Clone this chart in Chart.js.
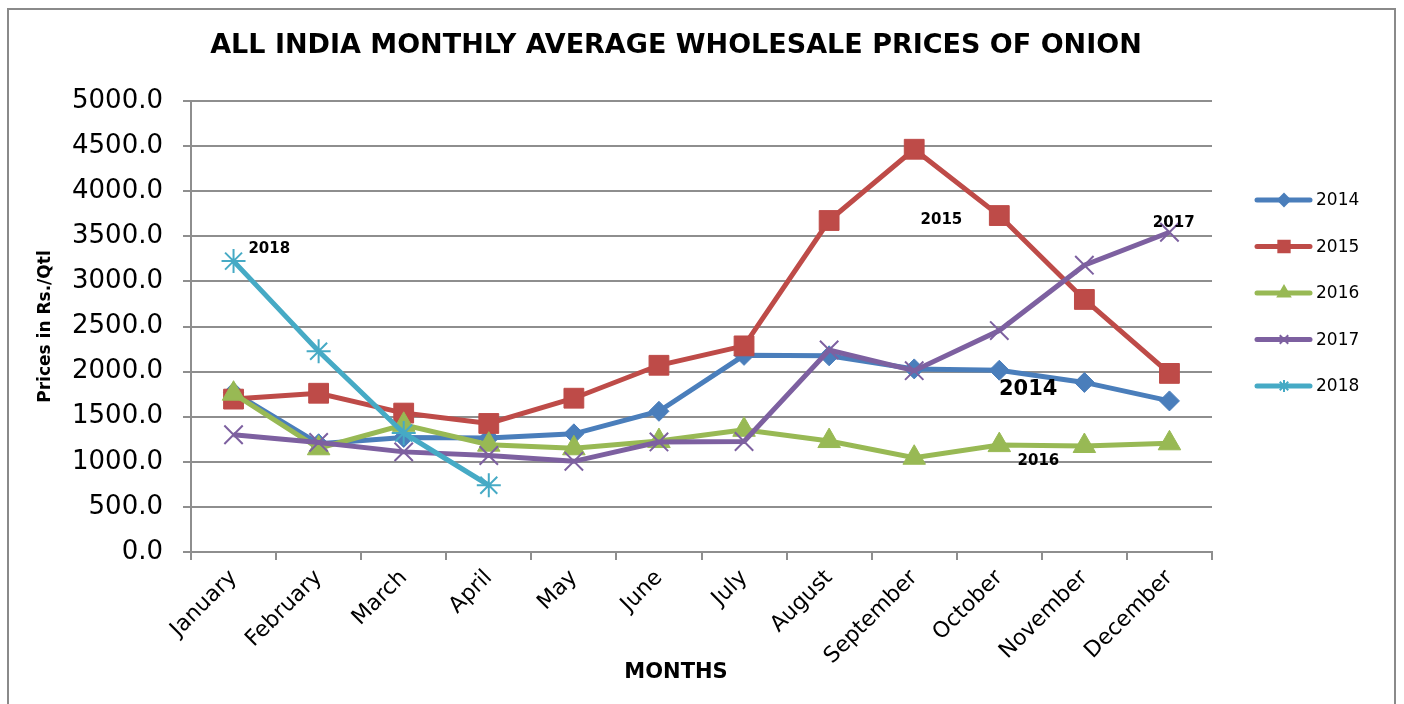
<!DOCTYPE html>
<html>
<head>
<meta charset="utf-8">
<script src="https://cdn.jsdelivr.net/npm/chart.js@4.4.1/dist/chart.umd.min.js"></script>
<style>
  html, body { margin: 0; padding: 0; background: #fff; }
  #wrap { position: relative; width: 1404px; height: 704px; overflow: hidden; }
  #frame { position: absolute; left: 7px; top: 8px; width: 1389px; height: 720px; border: 2px solid #8a8a8a; box-sizing: border-box; }
  #onionChart { position: absolute; left: 0; top: 0; }
</style>
</head>
<body>
<div id="wrap">
  <div id="frame"></div>
  <canvas id="onionChart" width="1404" height="704"></canvas>
</div>
<script>
const months = ['January', 'February', 'March', 'April', 'May', 'June', 'July',
                'August', 'September', 'October', 'November', 'December'];
const years = ['2014', '2015', '2016', '2017', '2018'];

// Rs./Qtl
const prices2014 = [1770, 1200, 1270, 1265, 1310, 1560, 2180, 2175, 2030, 2015, 1880, 1675];
const prices2015 = [1695, 1760, 1540, 1425, 1705, 2070, 2285, 3675, 4465, 3730, 2800, 1980];
const prices2016 = [1755, 1150, 1410, 1190, 1150, 1230, 1355, 1230, 1045, 1185, 1175, 1205];
const prices2017 = [1300, 1215, 1110, 1070, 1005, 1220, 1225, 2240, 2010, 2455, 3180, 3545];
const prices2018 = [3225, 2225, 1320, 740];

const yTicks = [0, 500, 1000, 1500, 2000, 2500, 3000, 3500, 4000, 4500, 5000];

const colors = ['#4a7ebb', '#be4b48', '#98b954', '#7d60a0', '#46aac5'];
const markers = ['rectRot', 'rect', 'triangle', 'crossRot', 'star'];
const markerSize = [10, 14, 13, 13, 12];
const legendMarkerSize = [6, 8, 7, 6, 6];

// year labels written inside the plot (category index, value)
const yearNotes = [
    { text: '2018', at: 0.42, value: 3360, size: 15 },
    { text: '2015', at: 8.32, value: 3680, size: 15 },
    { text: '2017', at: 11.05, value: 3650, size: 15 },
    { text: '2014', at: 9.34, value: 1796, size: 21 },
    { text: '2016', at: 9.46, value: 1010, size: 15 }
];

const series = [prices2014, prices2015, prices2016, prices2017, prices2018];
const gridColor = '#8e8e8e';
const fontFamily = '"DejaVu Sans", Verdana, sans-serif';

const datasets = series.map((vals, i) => ({
    label: years[i],
    data: vals,
    borderColor: colors[i],
    backgroundColor: colors[i],
    borderWidth: 5,
    pointStyle: markers[i],
    pointRadius: markerSize[i],
    pointHoverRadius: markerSize[i],
    pointBorderWidth: (i >= 3) ? 2 : 1,
    pointBackgroundColor: colors[i],
    pointBorderColor: colors[i],
    tension: 0,
    order: 4 - i
}));

const yearNotesPlugin = {
    id: 'yearNotes',
    afterDatasetsDraw(chart) {
        const ctx = chart.ctx;
        const x = chart.scales.x, y = chart.scales.y;
        ctx.save();
        ctx.fillStyle = '#000';
        ctx.textAlign = 'center';
        ctx.textBaseline = 'middle';
        yearNotes.forEach(n => {
            ctx.font = 'bold ' + n.size + 'px ' + fontFamily;
            ctx.fillText(n.text, x.getPixelForValue(n.at), y.getPixelForValue(n.value));
        });
        ctx.restore();
    }
};

const sideLegendPlugin = {
    id: 'sideLegend',
    afterDraw(chart) {
        const ctx = chart.ctx;
        const area = chart.chartArea;
        const x0 = area.right + 45;
        ctx.save();
        chart.data.datasets.forEach((ds, i) => {
            const yy = area.top + 99 + i * 46.5;
            ctx.strokeStyle = ds.borderColor;
            ctx.fillStyle = ds.borderColor;
            ctx.lineWidth = 5;
            ctx.lineCap = 'round';
            ctx.beginPath();
            ctx.moveTo(x0, yy);
            ctx.lineTo(x0 + 53, yy);
            ctx.stroke();
            ctx.lineCap = 'butt';
            ctx.lineWidth = 2;
            if (Chart.helpers && Chart.helpers.drawPoint) {
                Chart.helpers.drawPoint(ctx, {
                    pointStyle: ds.pointStyle,
                    radius: legendMarkerSize[i],
                    borderWidth: 2,
                    rotation: 0
                }, x0 + 27, yy);
            }
            ctx.fillStyle = '#000';
            ctx.font = '17px ' + fontFamily;
            ctx.textAlign = 'left';
            ctx.textBaseline = 'middle';
            ctx.fillText(ds.label, x0 + 59, yy + 1);
        });
        ctx.restore();
    }
};

const ctx = document.getElementById('onionChart').getContext('2d');
const onionChart = new Chart(ctx, {
    type: 'line',
    data: { labels: months, datasets: datasets },
    plugins: [yearNotesPlugin, sideLegendPlugin],
    options: {
        responsive: false,
        animation: false,
        events: [],
        layout: { padding: { left: 0, right: 52, top: 0, bottom: 0 } },
        plugins: {
            legend: { display: false },
            tooltip: { enabled: false },
            title: {
                display: true,
                text: 'ALL INDIA MONTHLY AVERAGE WHOLESALE PRICES OF ONION',
                color: '#000',
                font: { family: fontFamily, size: 27, weight: 'bold', lineHeight: 1.2 },
                padding: { top: 30, bottom: 38.6 }
            },
            subtitle: {
                display: true,
                position: 'bottom',
                text: 'MONTHS',
                color: '#000',
                font: { family: fontFamily, size: 21, weight: 'bold', lineHeight: 0.8 },
                padding: { top: 0, bottom: 22.6 }
            }
        },
        scales: {
            x: {
                offset: true,
                grid: {
                    offset: true,
                    drawOnChartArea: false,
                    drawTicks: true,
                    tickLength: 8,
                    color: gridColor,
                    lineWidth: 2
                },
                border: { display: true, color: gridColor, width: 2 },
                ticks: {
                    autoSkip: false,
                    minRotation: 45,
                    maxRotation: 45,
                    padding: 5,
                    color: '#000',
                    font: { family: fontFamily, size: 22 }
                },
                afterFit(scale) { scale.height = 112.6; }
            },
            y: {
                min: 0,
                max: 5000,
                afterBuildTicks(scale) {
                    scale.ticks = yTicks.map(v => ({ value: v }));
                },
                grid: {
                    color: gridColor,
                    lineWidth: 2,
                    drawTicks: true,
                    tickLength: 8
                },
                border: { display: true, color: gridColor, width: 2 },
                ticks: {
                    padding: 20,
                    color: '#000',
                    font: { family: fontFamily, size: 26 },
                    callback: v => Number(v).toFixed(1)
                },
                title: {
                    display: true,
                    text: 'Prices in Rs./Qtl',
                    color: '#000',
                    font: { family: fontFamily, size: 17, weight: 'bold', lineHeight: 1.2 },
                    padding: { top: 35, bottom: 0 }
                },
                afterFit(scale) { scale.width = 191; }
            },
            spare: {
                type: 'linear',
                position: 'right',
                display: true,
                grid: { display: false, drawTicks: false },
                border: { display: false },
                ticks: { display: false },
                afterFit(scale) { scale.width = 140; }
            }
        }
    }
});
</script>
</body>
</html>
